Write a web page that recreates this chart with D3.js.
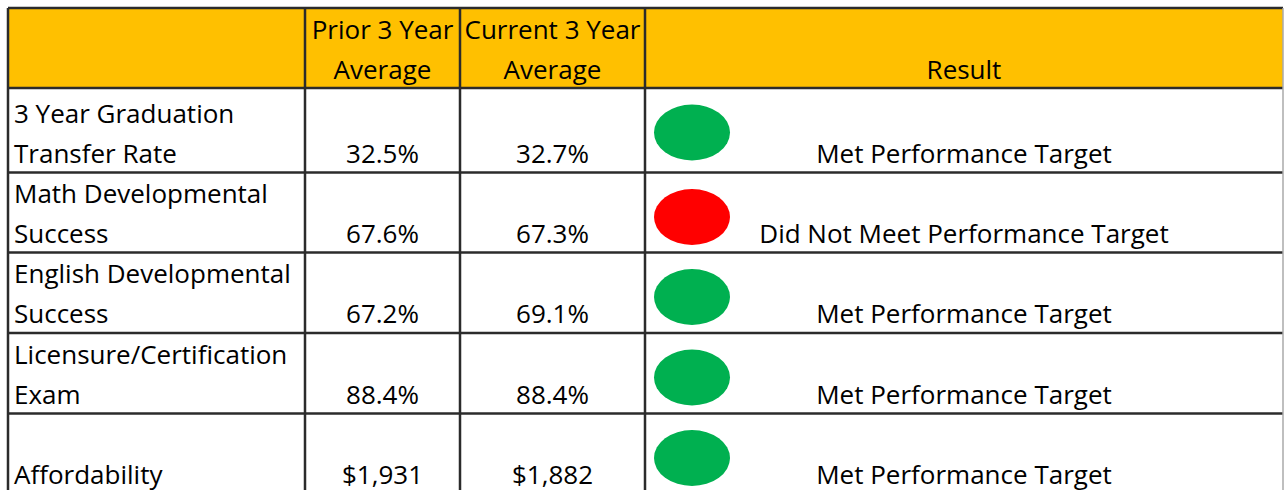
<!DOCTYPE html>
<html>
<head>
<meta charset="utf-8">
<script src="https://d3js.org/d3.v7.min.js"></script>
<style>
    body { margin: 0; background: #fff; }
    text { font-family: "Open Sans", "Noto Sans", sans-serif; fill: #000; }
</style>
</head>
<body>
<svg id="chart" width="1284" height="490"></svg>
<script>
    // table content
    const headers = [[], ["Prior 3 Year", "Average"], ["Current 3 Year", "Average"], ["Result"]]
    const measures = [
        ["3 Year Graduation", "Transfer Rate"],
        ["Math Developmental", "Success"],
        ["English Developmental", "Success"],
        ["Licensure/Certification", "Exam"],
        ["Affordability"]
    ]
    const priorAvg = ["32.5%", "67.6%", "67.2%", "88.4%", "$1,931"]
    const currentAvg = ["32.7%", "67.3%", "69.1%", "88.4%", "$1,882"]
    const metTarget = [true, false, true, true, true]

    // layout
    const colEdges = [8, 305, 460, 645, 1283]
    const rowHeights = [80, 84.5, 80, 80.5, 80.5, 84]
    const tableTop = 8
    const lineGap = 40
    const fontSize = 26

    let rowEdges = [tableTop]
    rowHeights.forEach(h => rowEdges.push(rowEdges[rowEdges.length - 1] + h))

    const svg = d3.select("#chart")
    const gridColor = "#2b2b2b"

    // header band
    svg.append("rect")
        .attr("x", colEdges[0])
        .attr("y", rowEdges[0])
        .attr("width", colEdges[4] - colEdges[0])
        .attr("height", rowHeights[0])
        .attr("fill", "#FFC000")

    // header text (bottom aligned, centred)
    headers.forEach((lines, c) => {
        let cx = (colEdges[c] + colEdges[c + 1]) / 2
        let bottom = rowEdges[1] - 9.5
        lines.forEach((t, i) => {
            svg.append("text")
                .attr("x", cx)
                .attr("y", bottom - (lines.length - 1 - i) * lineGap)
                .attr("text-anchor", "middle")
                .attr("font-size", fontSize)
                .text(t)
        })
    })

    // body rows
    measures.forEach((lines, r) => {
        let rowTop = rowEdges[r + 1]
        let rowBottom = rowEdges[r + 2]
        let base = rowBottom - 10
        if (r === measures.length - 1) base = rowBottom - 14

        lines.forEach((t, i) => {
            svg.append("text")
                .attr("x", colEdges[0] + 6)
                .attr("y", base - (lines.length - 1 - i) * lineGap)
                .attr("font-size", fontSize)
                .text(t)
        })

        svg.append("text")
            .attr("x", (colEdges[1] + colEdges[2]) / 2)
            .attr("y", base)
            .attr("text-anchor", "middle")
            .attr("font-size", fontSize)
            .text(priorAvg[r])

        svg.append("text")
            .attr("x", (colEdges[2] + colEdges[3]) / 2)
            .attr("y", base)
            .attr("text-anchor", "middle")
            .attr("font-size", fontSize)
            .text(currentAvg[r])

        svg.append("ellipse")
            .attr("cx", colEdges[3] + 47)
            .attr("cy", rowTop + 44.5)
            .attr("rx", 38)
            .attr("ry", 28)
            .attr("fill", metTarget[r] ? "#00B050" : "#FF0000")

        svg.append("text")
            .attr("x", (colEdges[3] + colEdges[4]) / 2)
            .attr("y", base)
            .attr("text-anchor", "middle")
            .attr("font-size", fontSize)
            .text(metTarget[r] ? "Met Performance Target" : "Did Not Meet Performance Target")
    })

    // grid lines
    rowEdges.slice(0, 6).forEach(y => {
        svg.append("line")
            .attr("x1", colEdges[0]).attr("x2", colEdges[4])
            .attr("y1", y).attr("y2", y)
            .attr("stroke", gridColor)
            .attr("stroke-width", 2.5)
    })
    colEdges.slice(0, 4).forEach(x => {
        svg.append("line")
            .attr("x1", x).attr("x2", x)
            .attr("y1", tableTop).attr("y2", 490)
            .attr("stroke", gridColor)
            .attr("stroke-width", 2.5)
    })
    // faint right edge
    svg.append("line")
        .attr("x1", colEdges[4]).attr("x2", colEdges[4])
        .attr("y1", tableTop).attr("y2", 490)
        .attr("stroke", "#aaa")
        .attr("stroke-width", 1.5)
</script>
</body>
</html>
